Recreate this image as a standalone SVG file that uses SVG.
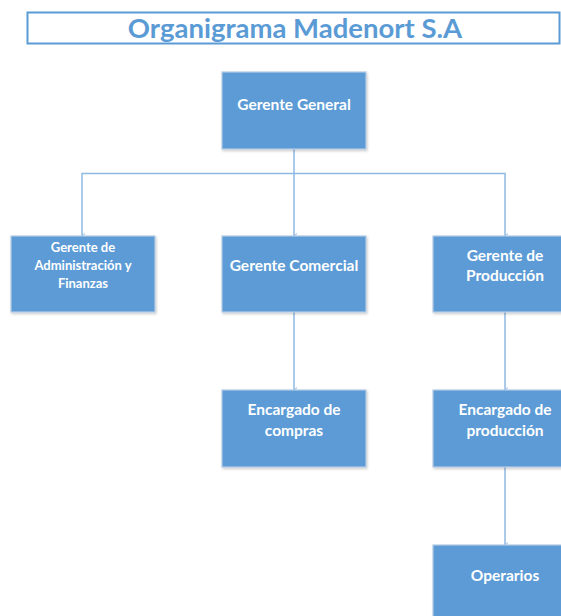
<svg xmlns="http://www.w3.org/2000/svg" width="561" height="616" viewBox="0 0 561 616">
<defs>
<style>
.box{fill:#5b9bd5;stroke:#b4cbe4;stroke-width:1.2}
.t{fill:#ffffff;font-family:Lato,"Liberation Sans",sans-serif;font-weight:bold;text-anchor:middle;font-size:15.5px}
.s{font-size:13px}
.c{fill:none;stroke:#8fb9e2;stroke-width:1.5}
</style>
<filter id="sh" x="-10%" y="-10%" width="120%" height="120%">
<feDropShadow dx="1" dy="1.5" stdDeviation="1" flood-color="#000" flood-opacity="0.2"/>
</filter>
<marker id="ar" markerWidth="6" markerHeight="6" refX="3" refY="5" orient="auto" markerUnits="userSpaceOnUse" viewBox="0 0 6 6">
<path d="M0.5,2 L3,5 L5.5,2" fill="none" stroke="#8fb9e2" stroke-width="1"/>
</marker>
</defs>
<rect width="561" height="616" fill="#ffffff"/>
<g id="title">
<rect x="27.5" y="12.5" width="532" height="31" fill="#ffffff" stroke="#5b9bd5" stroke-width="2"/>
<text x="295" y="37.5" font-family="Lato,'Liberation Sans',sans-serif" font-weight="bold" font-size="27.5" fill="#5b9bd5" text-anchor="middle">Organigrama Madenort S.A</text>
</g>
<g id="connectors">
<path class="c" d="M294,149 V236" marker-end="url(#ar)"/>
<path class="c" d="M294,173.5 H82 V236" marker-end="url(#ar)"/>
<path class="c" d="M294,173.5 H505 V236" marker-end="url(#ar)"/>
<path class="c" d="M294,312 V390" marker-end="url(#ar)"/>
<path class="c" d="M505,312 V390" marker-end="url(#ar)"/>
<path class="c" d="M505,467 V545" marker-end="url(#ar)"/>
</g>
<g id="gerente-general">
<rect class="box" x="222" y="72" width="144" height="77" filter="url(#sh)"/>
<text class="t" x="294" y="109.5">Gerente General</text>
</g>
<g id="gerente-admin">
<rect class="box" x="11" y="236" width="144" height="76" filter="url(#sh)"/>
<text class="t s" x="83" y="251.5">Gerente de</text>
<text class="t s" x="83" y="270">Administración y</text>
<text class="t s" x="83" y="288">Finanzas</text>
</g>
<g id="gerente-comercial">
<rect class="box" x="222" y="236" width="144" height="76" filter="url(#sh)"/>
<text class="t" x="294" y="270.5">Gerente Comercial</text>
</g>
<g id="gerente-produccion">
<rect class="box" x="433" y="236" width="135" height="76" filter="url(#sh)"/>
<text class="t" x="505" y="260.5">Gerente de</text>
<text class="t" x="505" y="280.5">Producción</text>
</g>
<g id="encargado-compras">
<rect class="box" x="222" y="390" width="144" height="77" filter="url(#sh)"/>
<text class="t" x="294" y="414.5">Encargado de</text>
<text class="t" x="294" y="435.5">compras</text>
</g>
<g id="encargado-produccion">
<rect class="box" x="433" y="390" width="135" height="77" filter="url(#sh)"/>
<text class="t" x="505" y="414.5">Encargado de</text>
<text class="t" x="505" y="435.5">producción</text>
</g>
<g id="operarios">
<rect class="box" x="433" y="545" width="135" height="80" filter="url(#sh)"/>
<text class="t" x="505" y="580.5">Operarios</text>
</g>
</svg>
